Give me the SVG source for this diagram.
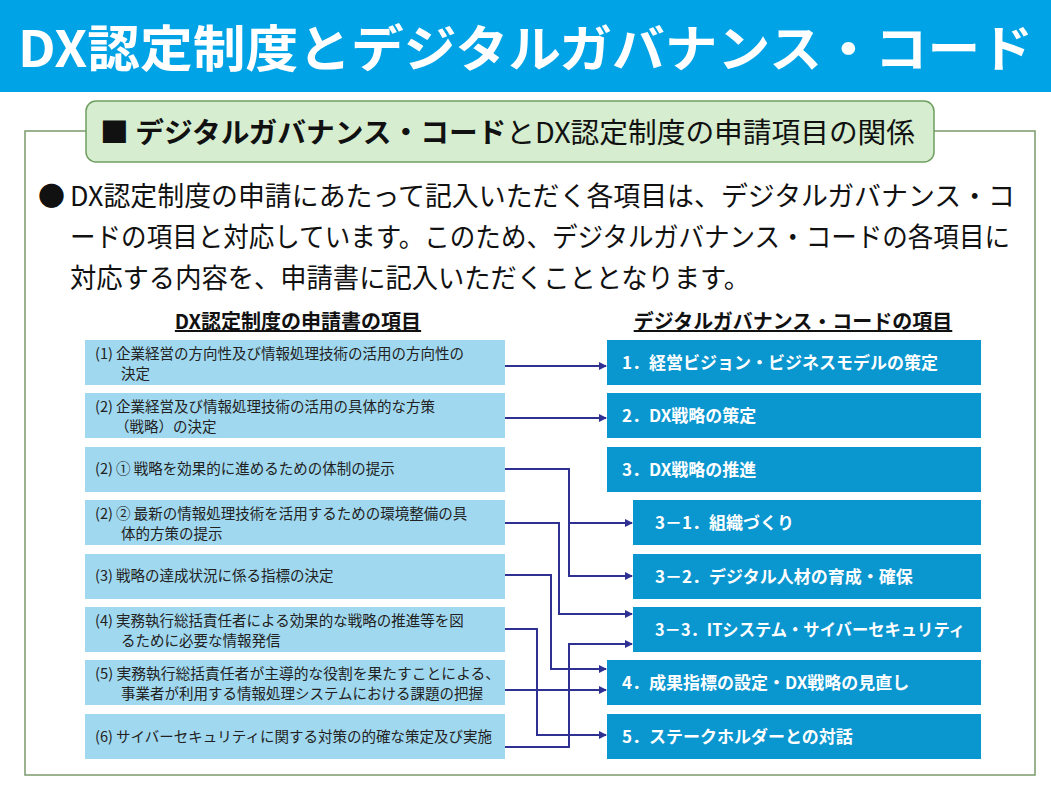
<svg xmlns="http://www.w3.org/2000/svg" width="1051" height="787" viewBox="0 0 1051 787">
<defs>
<marker id="ah" markerWidth="8" markerHeight="8" refX="7" refY="4" orient="auto" markerUnits="userSpaceOnUse"><path d="M0,0 L8,4 L0,8 Z" fill="#2e3192"/></marker>
<style>
text{font-family:"Noto Sans CJK JP","Noto Sans",sans-serif}
.l rect{fill:#a0d8ef}
.l text{font-size:14.5px;fill:#222}
.r rect{fill:#0a96cf}
.r text{font-size:17px;font-weight:bold;fill:#fff}
.c path{fill:none;stroke:#2e3192;stroke-width:2;marker-end:url(#ah)}
</style>
</defs>
<rect width="1051" height="787" fill="#fff"/>
<rect width="1051" height="92" fill="#00a3e6"/>
<text x="18" y="67" font-size="50" font-weight="bold" fill="#fff" textLength="1015" lengthAdjust="spacingAndGlyphs">DX認定制度とデジタルガバナンス・コード</text>
<rect x="25" y="131" width="1010" height="644" fill="none" stroke="#7a9a6a" stroke-width="1.5"/>
<rect x="86" y="101" width="848" height="61" rx="10" fill="#d6edcf" stroke="#6e9e60" stroke-width="1.5"/>
<text x="100" y="143" font-size="28" fill="#111" textLength="815" lengthAdjust="spacingAndGlyphs"><tspan font-weight="bold">■ デジタルガバナンス・コード</tspan>とDX認定制度の申請項目の関係</text>
<g font-size="27" fill="#111">
<text x="38" y="206">●</text>
<text x="70" y="206" textLength="945" lengthAdjust="spacingAndGlyphs">DX認定制度の申請にあたって記入いただく各項目は、デジタルガバナンス・コ</text>
<text x="70" y="247" textLength="940" lengthAdjust="spacingAndGlyphs">ードの項目と対応しています。このため、デジタルガバナンス・コードの各項目に</text>
<text x="70" y="288" textLength="680" lengthAdjust="spacingAndGlyphs">対応する内容を、申請書に記入いただくこととなります。</text>
</g>
<text x="298" y="329" font-size="20" font-weight="bold" text-anchor="middle" text-decoration="underline" fill="#111">DX認定制度の申請書の項目</text>
<text x="793" y="329" font-size="20" font-weight="bold" text-anchor="middle" text-decoration="underline" fill="#111">デジタルガバナンス・コードの項目</text>
<g class="l">
<g id="L1"><rect x="85" y="340" width="420" height="45"/><text x="95" y="359">(1) 企業経営の方向性及び情報処理技術の活用の方向性の</text><text x="121" y="379">決定</text></g>
<g id="L2"><rect x="85" y="393" width="420" height="45"/><text x="95" y="412">(2) 企業経営及び情報処理技術の活用の具体的な方策</text><text x="115" y="432">（戦略）の決定</text></g>
<g id="L3"><rect x="85" y="447" width="420" height="45"/><text x="95" y="474">(2) ① 戦略を効果的に進めるための体制の提示</text></g>
<g id="L4"><rect x="85" y="500" width="420" height="45"/><text x="95" y="519">(2) ② 最新の情報処理技術を活用するための環境整備の具</text><text x="121" y="539">体的方策の提示</text></g>
<g id="L5"><rect x="85" y="554" width="420" height="45"/><text x="95" y="581">(3) 戦略の達成状況に係る指標の決定</text></g>
<g id="L6"><rect x="85" y="607" width="420" height="45"/><text x="95" y="626">(4) 実務執行総括責任者による効果的な戦略の推進等を図</text><text x="121" y="646">るために必要な情報発信</text></g>
<g id="L7"><rect x="85" y="660" width="420" height="45"/><text x="95" y="679" textLength="405" lengthAdjust="spacingAndGlyphs">(5) 実務執行総括責任者が主導的な役割を果たすことによる、</text><text x="121" y="699">事業者が利用する情報処理システムにおける課題の把握</text></g>
<g id="L8"><rect x="85" y="714" width="420" height="45"/><text x="95" y="742">(6) サイバーセキュリティに関する対策の的確な策定及び実施</text></g>
</g>
<g class="r">
<g id="R1"><rect x="607" y="340" width="374" height="45"/><text x="622" y="369">1．経営ビジョン・ビジネスモデルの策定</text></g>
<g id="R2"><rect x="607" y="393" width="374" height="45"/><text x="622" y="422">2．DX戦略の策定</text></g>
<g id="R3"><rect x="607" y="447" width="374" height="45"/><text x="622" y="476">3．DX戦略の推進</text></g>
<g id="R31"><rect x="633" y="500" width="348" height="45"/><text x="655" y="529">3－1．組織づくり</text></g>
<g id="R32"><rect x="633" y="554" width="348" height="45"/><text x="655" y="583">3－2．デジタル人材の育成・確保</text></g>
<g id="R33"><rect x="633" y="607" width="348" height="45"/><text x="655" y="636" textLength="310" lengthAdjust="spacingAndGlyphs">3－3．ITシステム・サイバーセキュリティ</text></g>
<g id="R4"><rect x="607" y="660" width="374" height="45"/><text x="622" y="689">4．成果指標の設定・DX戦略の見直し</text></g>
<g id="R5"><rect x="607" y="714" width="374" height="45"/><text x="622" y="743">5．ステークホルダーとの対話</text></g>
</g>
<g class="c" id="connectors">
<path d="M505,366 H606"/>
<path d="M505,418 H606"/>
<path d="M505,469 H569 V576 H632"/>
<path d="M569,523 H632"/>
<path d="M505,523 H559 V614 H632"/>
<path d="M505,575 H551 V669 H606"/>
<path d="M505,629 H537 V735 H606"/>
<path d="M505,690 H606"/>
<path d="M505,747 H569 V644 H632"/>
</g>
</svg>
